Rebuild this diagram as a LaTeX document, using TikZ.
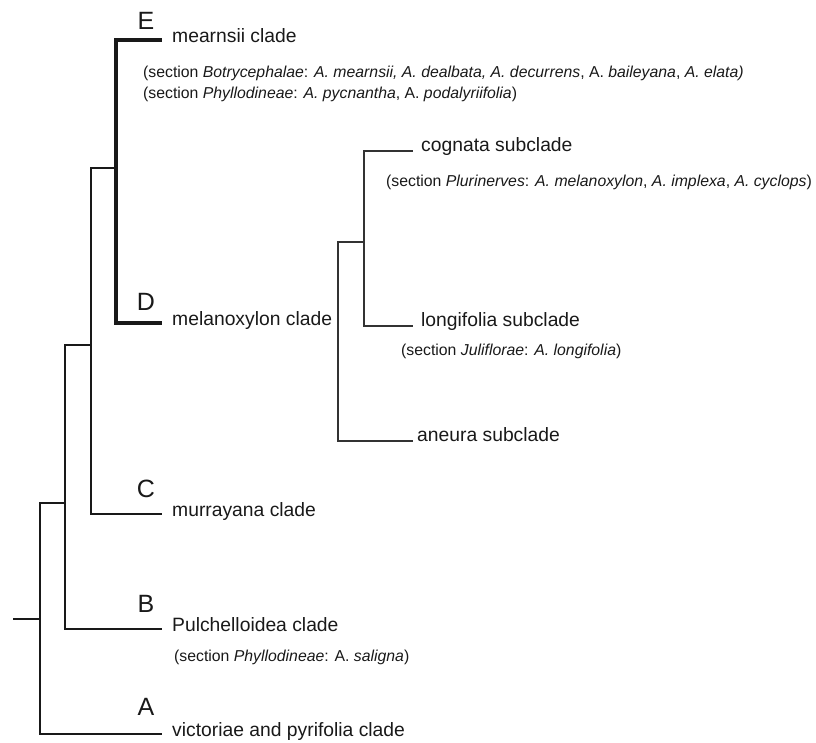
\documentclass[tikz,border=0pt]{standalone}
\usepackage{fontspec}
\setmainfont{Liberation Sans}
\usepackage{tikz}
\usetikzlibrary{positioning}

\begin{document}
\begin{tikzpicture}[x=1pt,y=-1pt,
clade/.style={anchor=west,inner sep=0pt,text=black!90,text height=0.72em,text depth=0.2em,font=\fontsize{19.3}{22}\selectfont},
subclade/.style={clade,text height=0.62em,text depth=0.5em},
sect/.style={anchor=base west,inner sep=0pt,text=black!90,font=\fontsize{15.8}{19}\selectfont},
grp/.style={anchor=base,inner sep=0pt,text=black!90,font=\fontsize{25}{28}\selectfont},
br/.style={line width=2.6pt,draw=black!90},
hbr/.style={line width=3.4pt,draw=black!90},
lbr/.style={line width=2pt,draw=black!90},
tbr/.style={line width=1.2pt,draw=black!80}]
\useasboundingbox (0,0) rectangle (816,743);
\node[clade] (mearnsii) at (172,40) {mearnsii clade};
\node[clade] (melanoxylon) at (172,323) {melanoxylon clade};
\node[clade] (murrayana) at (172,514) {murrayana clade};
\node[clade] (pulchelloidea) at (172,629) {Pulchelloidea clade};
\node[clade] (victoriae) at (172,734) {victoriae and pyrifolia clade};
\node[subclade] (cognata) at (421,151) {cognata subclade};
\node[subclade] (longifolia) at (421,326) {longifolia subclade};
\node[subclade] (aneura) at (417,441) {aneura subclade};
\foreach \g/\y in %
{E/30,D/310,C/497,B/612,A/715} {
   \node[grp] (grp\g) at (146,\y) {\g};
}
\node[sect] (secE1) at (143,78) {(section \textit{Botrycephalae}: \textit{A. mearnsii, A. dealbata, A. decurrens}, A. \textit{baileyana}, \textit{A. elata)}};
\node[sect] (secE2) at (143,99) {(section \textit{Phyllodineae}: \textit{A. pycnantha}, A. \textit{podalyriifolia})};
\node[sect] (secCognata) at (386,187) {(section \textit{Plurinerves}: \textit{A. melanoxylon}, \textit{A. implexa}, \textit{A. cyclops})};
\node[sect] (secLongifolia) at (401,355) {(section \textit{Juliflorae}: \textit{A. longifolia})};
\node[sect] (secB) at (174,661) {(section \textit{Phyllodineae}: A. \textit{saligna})};
\coordinate (stub) at (13,619);
\coordinate (j0) at (40,619);
\coordinate (j1) at (65,503);
\coordinate (j2) at (91,345);
\coordinate (j3) at (116,168);
\coordinate (s1) at (364,242);
\coordinate (s0) at (338,242);
\draw[br] (stub) -- (j0);
\draw[br] (j0) |- (j1);
\draw[br,shorten >=10pt] (j0) |- (victoriae);
\draw[br] (j1) |- (j2);
\draw[br,shorten >=10pt] (j1) |- (pulchelloidea);
\draw[lbr] (j2) |- (j3);
\draw[lbr,shorten >=10pt] (j2) |- (murrayana);
\draw[hbr,shorten >=10pt] (j3) |- (mearnsii);
\draw[hbr,shorten >=10pt] (j3) |- (melanoxylon);
\draw[tbr,shorten >=4pt] (s1) -- (s0) |- (aneura);
\draw[tbr,shorten >=8pt] (s1) |- (cognata);
\draw[tbr,shorten >=8pt] (s1) |- (longifolia);
\end{tikzpicture}
\end{document}
